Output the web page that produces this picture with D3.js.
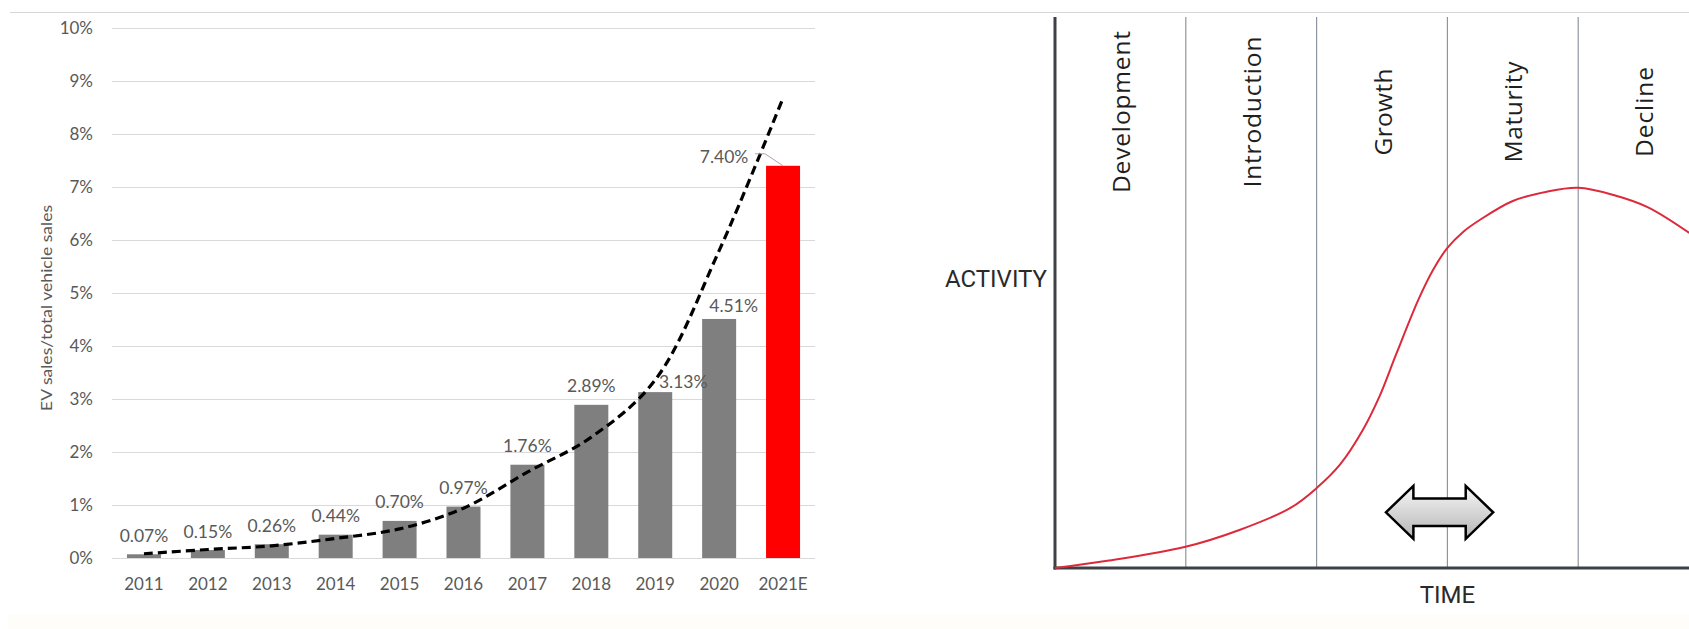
<!DOCTYPE html>
<html>
<head>
<meta charset="utf-8">
<script src="https://cdn.jsdelivr.net/npm/d3@7"></script>
<style>
  html, body { margin: 0; padding: 0; background: #ffffff; }
  svg { display: block; }
</style>
</head>
<body>
<svg id="chart" width="1689" height="629"></svg>
<script>
// ---- EV share of total vehicle sales ----
const years = ["2011", "2012", "2013", "2014", "2015", "2016", "2017", "2018", "2019", "2020", "2021E"];
const evShare = [0.07, 0.15, 0.26, 0.44, 0.70, 0.97, 1.76, 2.89, 3.13, 4.51, 7.40];
const trendShare = [0.08, 0.16, 0.23, 0.37, 0.55, 0.94, 1.62, 2.28, 3.36, 5.80, 8.68];
const shareTicks = [0, 1, 2, 3, 4, 5, 6, 7, 8, 9, 10];
const forecastYear = "2021E";

// ---- Product life cycle ----
const phases = ["Development", "Introduction", "Growth", "Maturity", "Decline"];
const cycleTime = [0, 0.40, 0.99, 1.41, 1.80, 2.00, 2.18, 2.35, 2.48, 2.61, 2.78, 2.89, 3.00, 3.12, 3.25, 3.50, 3.76, 4.00, 4.27, 4.53, 4.85];
const cycleActivity = [0, 1.3, 3.8, 6.9, 10.9, 14.5, 18.8, 24.9, 31.1, 38.9, 48.8, 54.1, 58.1, 61.0, 63.2, 66.6, 68.3, 69.0, 67.7, 65.5, 60.8];

const svg = d3.select("#chart");

// page frame: thin rule along the top, faint strip at the bottom
svg.append("rect").attr("x", 8).attr("y", 615).attr("width", 1681).attr("height", 14).attr("fill", "#fefdf9");
svg.append("line").attr("x1", 10).attr("x2", 1689).attr("y1", 12.5).attr("y2", 12.5)
  .attr("stroke", "#d6d6d6").attr("stroke-width", 1.2);

// ================= Left: bar chart =================
const left = { x0: 112, x1: 815, y0: 558, y1: 28 };
const x = d3.scaleBand().domain(years).range([left.x0, left.x1]).paddingInner(0.468).paddingOuter(0.234);
const y = d3.scaleLinear().domain([0, 10]).range([left.y0, left.y1]);
const textGray = "#595959";
const lf = "Lato, 'Open Sans', sans-serif";

const gL = svg.append("g");

// gridlines + tick labels via the axis generator
const yAxis = d3.axisLeft(y).tickValues(shareTicks).tickSize(-(left.x1 - left.x0)).tickPadding(19)
  .tickFormat(d => d + "%");
const ya = gL.append("g").attr("transform", `translate(${left.x0},0)`).call(yAxis);
ya.select(".domain").remove();
ya.selectAll(".tick line").attr("stroke", "#d9d9d9").attr("stroke-width", 1.2);
ya.selectAll(".tick text").attr("fill", textGray).attr("font-family", lf).attr("font-size", 17);

const xAxis = d3.axisBottom(x).tickSize(0).tickPadding(20);
const xa = gL.append("g").attr("transform", `translate(0,${left.y0})`).call(xAxis);
xa.select(".domain").remove();
xa.selectAll(".tick text").attr("fill", textGray).attr("font-family", lf).attr("font-size", 17);

// y-axis title
gL.append("text")
  .attr("transform", `translate(52,${(y(0) + y(10)) / 2 + 15}) rotate(-90)`)
  .attr("text-anchor", "middle")
  .attr("fill", textGray).attr("font-family", lf).attr("font-size", 16)
  .attr("textLength", 206).attr("lengthAdjust", "spacingAndGlyphs")
  .text("EV sales/total vehicle sales");

// bars
const rows = years.map((yr, i) => ({ year: yr, value: evShare[i], trend: trendShare[i] }));
gL.selectAll("rect.bar").data(rows).join("rect")
  .attr("class", "bar")
  .attr("x", d => x(d.year))
  .attr("width", x.bandwidth())
  .attr("y", d => y(d.value))
  .attr("height", d => y(0) - y(d.value))
  .attr("fill", d => d.year === forecastYear ? "#ff0000" : "#7f7f7f");

// exponential trend line (dashed)
const trendLine = d3.line()
  .x(d => x(d.year) + x.bandwidth() / 2)
  .y(d => y(d.trend))
  .curve(d3.curveCatmullRom.alpha(0.5));
gL.append("path").datum(rows)
  .attr("d", trendLine)
  .attr("fill", "none").attr("stroke", "#000").attr("stroke-width", 3.2)
  .attr("stroke-dasharray", "9 5");

// value labels; a few are nudged aside so they clear the trend line
const labelShift = { "2019": { dx: 28, dy: 8.5 }, "2020": { dx: 14.5, dy: 5.5 }, "2021E": { dx: -59, dy: 10 } };
gL.selectAll("text.val").data(rows).join("text")
  .attr("class", "val")
  .attr("x", d => x(d.year) + x.bandwidth() / 2 + (labelShift[d.year] ? labelShift[d.year].dx : 0))
  .attr("y", d => y(d.value) - 12.5 + (labelShift[d.year] ? labelShift[d.year].dy : 0))
  .attr("text-anchor", "middle")
  .attr("fill", textGray).attr("font-family", lf).attr("font-size", 17.5)
  .text(d => d.value.toFixed(2) + "%");

// leader line from the forecast label to its bar
const fIdx = years.indexOf(forecastYear);
const fx = x(forecastYear) + x.bandwidth() / 2;
const fy = y(evShare[fIdx]);
gL.append("path")
  .attr("d", `M${fx - 28},${fy - 12}L${fx - 18},${fy - 12}L${fx},${fy}`)
  .attr("fill", "none").attr("stroke", "#b9a3a3").attr("stroke-width", 1);

// ================= Right: life-cycle diagram =================
const tx = d3.scaleLinear().domain([0, 5]).range([1055, 1709]);
const ay = d3.scaleLinear().domain([0, 100]).range([568, 17]);
const gR = svg.append("g");

// phase dividers
gR.selectAll("line.div").data(d3.range(1, phases.length)).join("line")
  .attr("class", "div")
  .attr("x1", d => tx(d)).attr("x2", d => tx(d))
  .attr("y1", ay(100)).attr("y2", ay(0))
  .attr("stroke", "#8e969f").attr("stroke-width", 1.2);

// phase names
const phaseLen = { "Development": 162, "Introduction": 151, "Growth": 87, "Maturity": 101, "Decline": 90 };
gR.selectAll("text.phase").data(phases).join("text")
  .attr("class", "phase")
  .attr("transform", (d, i) => `translate(${tx(i + 0.5)},112) rotate(-90)`)
  .attr("text-anchor", "middle")
  .attr("dominant-baseline", "central")
  .attr("fill", "#1f1f1f")
  .attr("font-family", "'Open Sans', sans-serif").attr("font-size", 24.5)
  .attr("textLength", d => phaseLen[d]).attr("lengthAdjust", "spacing")
  .text(d => d);

// axes
gR.append("line").attr("x1", tx(0)).attr("x2", tx(0)).attr("y1", ay(100)).attr("y2", ay(0) + 1.5)
  .attr("stroke", "#3d4145").attr("stroke-width", 3);
gR.append("line").attr("x1", tx(0) - 1.5).attr("x2", 1689).attr("y1", ay(0)).attr("y2", ay(0))
  .attr("stroke", "#3d4145").attr("stroke-width", 3);

gR.append("text").attr("x", tx(0) - 8).attr("y", 287)
  .attr("text-anchor", "end").attr("fill", "#2a2a2a")
  .attr("font-family", "Roboto, sans-serif").attr("font-size", 24)
  .text("ACTIVITY");
gR.append("text").attr("x", tx(3)).attr("y", 603)
  .attr("text-anchor", "middle").attr("fill", "#2a2a2a")
  .attr("font-family", "Roboto, sans-serif").attr("font-size", 24)
  .text("TIME");

// life-cycle curve
const cycle = cycleTime.map((t, i) => ({ t, a: cycleActivity[i] }));
gR.append("path").datum(cycle)
  .attr("d", d3.line().x(d => tx(d.t)).y(d => ay(d.a)).curve(d3.curveCatmullRom.alpha(0.5)))
  .attr("fill", "none").attr("stroke", "#dc2a3c").attr("stroke-width", 2);

// double-headed arrow
const defs = svg.append("defs");
const grad = defs.append("linearGradient").attr("id", "arrowFill")
  .attr("x1", 0).attr("y1", 0).attr("x2", 0).attr("y2", 1);
grad.append("stop").attr("offset", "0%").attr("stop-color", "#f7f7f7");
grad.append("stop").attr("offset", "100%").attr("stop-color", "#b5b5b5");

const arrow = { t: 2.94, a: 10.1, half: 0.41, head: 0.21, headH: 4.8, shaftH: 2.5 };
const ap = [
  [arrow.t - arrow.half, arrow.a],
  [arrow.t - arrow.half + arrow.head, arrow.a + arrow.headH],
  [arrow.t - arrow.half + arrow.head, arrow.a + arrow.shaftH],
  [arrow.t + arrow.half - arrow.head, arrow.a + arrow.shaftH],
  [arrow.t + arrow.half - arrow.head, arrow.a + arrow.headH],
  [arrow.t + arrow.half, arrow.a],
  [arrow.t + arrow.half - arrow.head, arrow.a - arrow.headH],
  [arrow.t + arrow.half - arrow.head, arrow.a - arrow.shaftH],
  [arrow.t - arrow.half + arrow.head, arrow.a - arrow.shaftH],
  [arrow.t - arrow.half + arrow.head, arrow.a - arrow.headH]
];
gR.append("path")
  .attr("d", d3.line().x(d => tx(d[0])).y(d => ay(d[1]))(ap) + "Z")
  .attr("fill", "url(#arrowFill)").attr("stroke", "#000").attr("stroke-width", 2.5)
  .attr("stroke-linejoin", "miter");
</script>
</body>
</html>
